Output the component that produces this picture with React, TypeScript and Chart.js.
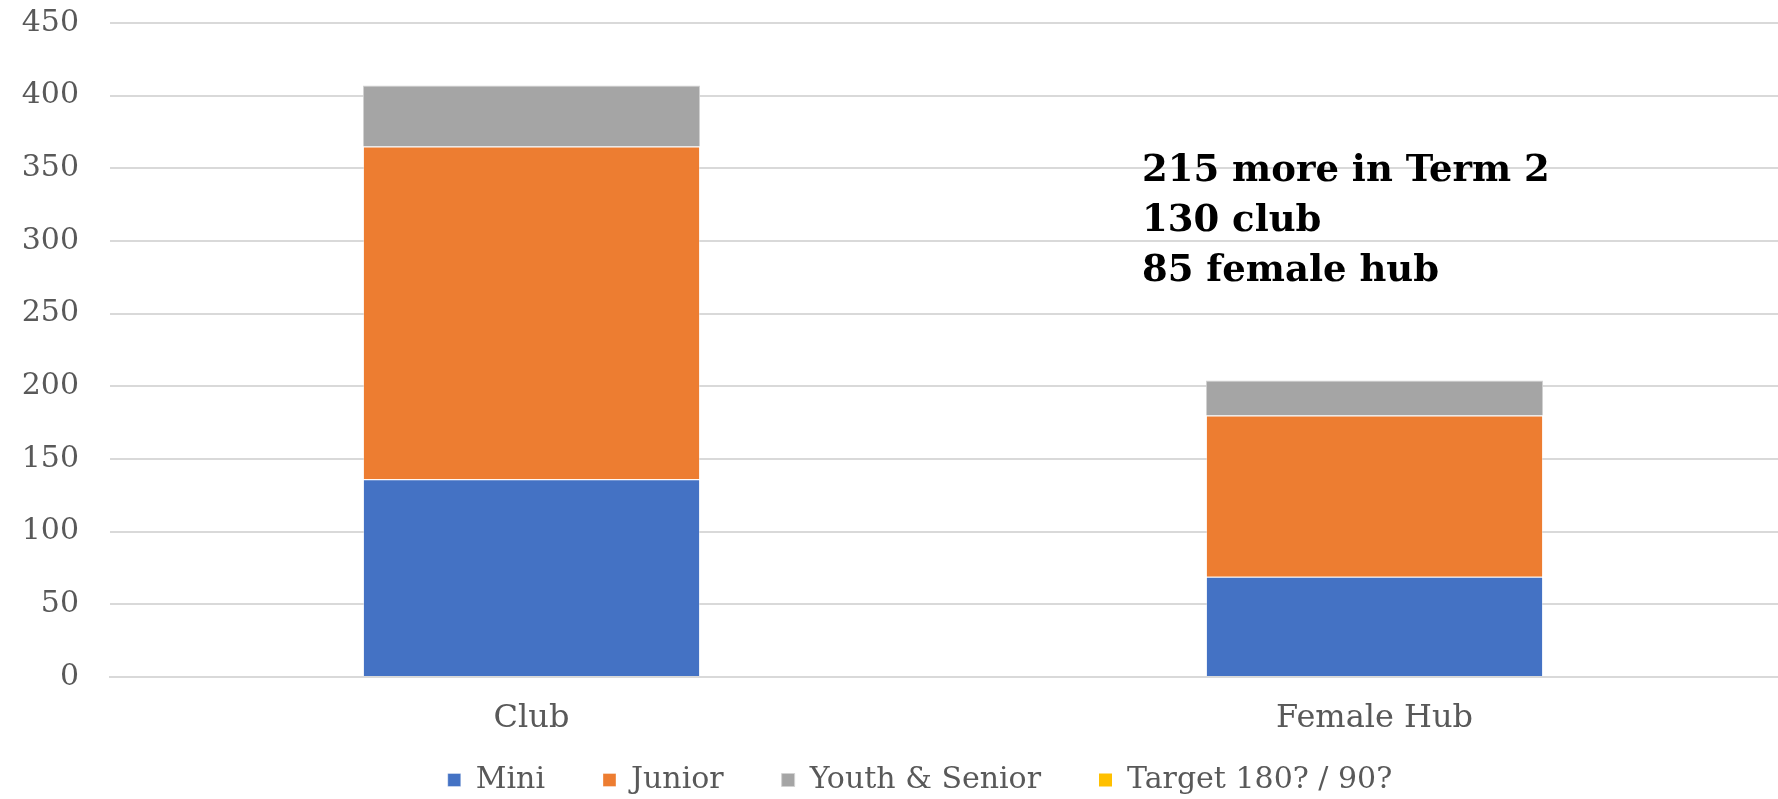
import React, { useEffect, useRef } from "react";
import { Chart, registerables } from "chart.js";

Chart.register(...registerables);

const categories = ["Club", "Female Hub"];
const miniValues = [136, 69];
const juniorValues = [229, 111];
const youthSeniorValues = [42, 24];
const targetValues: (number | null)[] = [null, null];
const yTicks = [0, 50, 100, 150, 200, 250, 300, 350, 400, 450];
const annotationLines = ["215 more in Term 2", "130 club", "85 female hub"];

const FONT = "'DejaVu Serif', serif";

export default function App() {
  const canvasRef = useRef<HTMLCanvasElement | null>(null);

  useEffect(() => {
    document.body.style.margin = "0";
    const canvas = canvasRef.current;
    if (!canvas) return;
    const chart = new Chart(canvas, {
      type: "bar",
      data: {
        labels: categories,
        datasets: [
          { label: "Mini", data: miniValues, backgroundColor: "#4472C4", borderColor: "rgba(255,255,255,0.35)", borderWidth: 1 },
          { label: "Junior", data: juniorValues, backgroundColor: "#ED7D31", borderColor: "rgba(255,255,255,0.35)", borderWidth: 1 },
          { label: "Youth & Senior", data: youthSeniorValues, backgroundColor: "#A5A5A5", borderColor: "rgba(210,210,210,1)", borderWidth: 1 },
          { label: "Target 180? / 90?", data: targetValues, backgroundColor: "#FFC000", borderWidth: 0 },
        ],
      },
      options: {
        animation: false,
        responsive: false,
        devicePixelRatio: 1,
        layout: { padding: { left: 0, right: 0, top: 23, bottom: -6 } },
        datasets: { bar: { categoryPercentage: 1, barPercentage: 0.4 } },
        scales: {
          x: {
            stacked: true,
            grid: { display: false, drawTicks: false },
            border: { display: true, color: "#d9d9d9", width: 2 },
            afterFit: (scale: any) => {
              scale.height = 30;
            },
            ticks: { color: "#595959", font: { family: FONT, size: 32 }, mirror: true, padding: -61 },
          },
          y: {
            stacked: true,
            min: 0,
            max: 450,
            afterBuildTicks: (scale: any) => {
              scale.ticks = yTicks.map((v) => ({ value: v }));
            },
            afterFit: (scale: any) => {
              scale.width = 110;
            },
            grid: { color: "#d9d9d9", lineWidth: 2, drawTicks: true, tickLength: 31, tickColor: "rgba(0,0,0,0)" },
            border: { display: false },
            ticks: { color: "#595959", font: { family: FONT, size: 30 }, padding: 0 },
          },
          yRight: {
            type: "linear",
            position: "right",
            display: true,
            grid: { display: false, drawTicks: false },
            border: { display: false },
            ticks: { display: false },
            afterFit: (scale: any) => {
              scale.width = 44;
            },
          },
        },
        plugins: {
          legend: {
            position: "bottom",
            labels: {
              color: "#595959",
              font: { family: FONT, size: 30 },
              boxWidth: 13,
              boxHeight: 13,
              padding: 58,
            },
          },
          tooltip: { enabled: false },
        },
      },
    });
    return () => chart.destroy();
  }, []);

  return (
    <div style={{ position: "relative", width: 1778, height: 799, overflow: "hidden", background: "#fff" }}>
      <canvas ref={canvasRef} width={1840} height={799} style={{ display: "block" }} />
      <div
        style={{
          position: "absolute",
          left: 1142,
          top: 143,
          fontFamily: FONT,
          fontWeight: "bold",
          fontSize: 37,
          lineHeight: "50px",
          color: "#000",
          whiteSpace: "nowrap",
        }}
      >
        {annotationLines.map((t) => (
          <div key={t}>{t}</div>
        ))}
      </div>
    </div>
  );
}
